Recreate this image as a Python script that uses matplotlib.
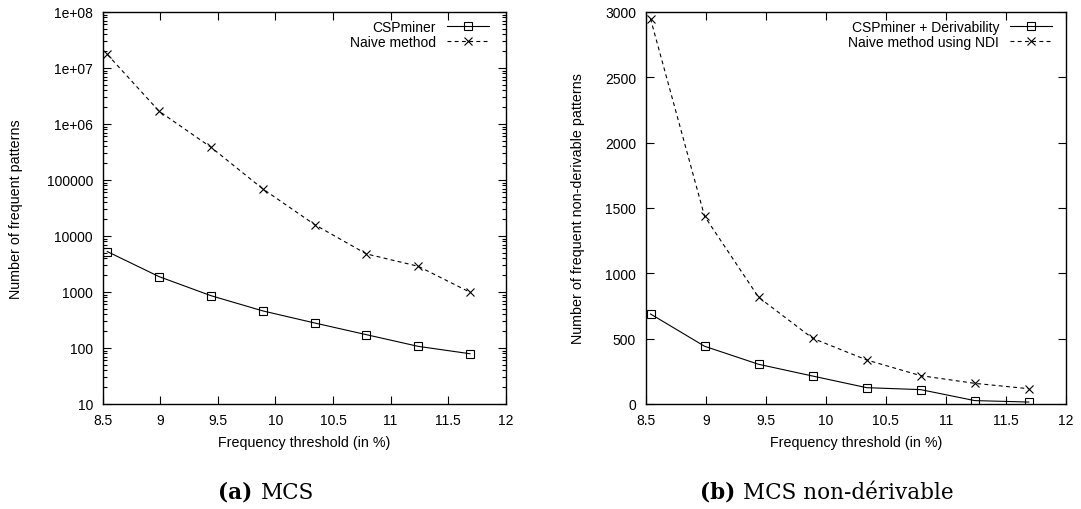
import matplotlib
matplotlib.use("Agg")
import matplotlib.pyplot as plt
from matplotlib.ticker import FixedLocator, LogLocator, NullFormatter

plt.rcParams['font.family'] = ['Liberation Sans', 'DejaVu Sans']

# Data
thresholds = [8.54, 8.99, 9.44, 9.89, 10.34, 10.79, 11.24, 11.69]
cspminer = [5270, 1880, 860, 460, 280, 173, 107, 79]
naive = [1.75e7, 1.69e6, 3.85e5, 6.95e4, 1.6e4, 4790, 2880, 990]
csp_deriv = [689, 442, 304, 214, 125, 110, 26, 15]
naive_ndi = [2949, 1437, 817, 503, 337, 217, 158, 117]

x_ticks = [8.5, 9, 9.5, 10, 10.5, 11, 11.5, 12]
x_tick_labels = ["8.5", "9", "9.5", "10", "10.5", "11", "11.5", "12"]
log_ticks = [10, 100, 1000, 10000, 100000, 1e6, 1e7, 1e8]
log_tick_labels = ["10", "100", "1000", "10000", "100000", "1e+06", "1e+07", "1e+08"]
lin_ticks = [0, 500, 1000, 1500, 2000, 2500, 3000]
lin_tick_labels = ["0", "500", "1000", "1500", "2000", "2500", "3000"]

W, H = 1081, 510
fig = plt.figure(figsize=(W / 100, H / 100), dpi=100)

def px_axes(x0, x1, y0, y1):
    return fig.add_axes([x0 / W, 1 - y1 / H, (x1 - x0) / W, (y1 - y0) / H])

axL = px_axes(102.7, 505.7, 13, 405)
axR = px_axes(645.7, 1066, 13, 405)

FS = 10
LFS = 10.3
lw = 0.8
dash = (0, (3.5, 3))

def style(ax, ylabel_x):
    ax.set_xlim(8.5, 12)
    ax.xaxis.set_major_locator(FixedLocator(x_ticks))
    ax.set_xticklabels(x_tick_labels)
    ax.tick_params(which='both', direction='in', top=True, right=True,
                   labelsize=FS, width=0.8, color='black')
    ax.tick_params(which='major', length=6)
    ax.tick_params(axis='x', which='major', pad=6.5)
    ax.tick_params(axis='y', which='major', pad=7)
    ax.tick_params(which='minor', length=3)
    for s in ax.spines.values():
        s.set_linewidth(1.0)
    ax.set_xlabel("Frequency threshold (in %)", fontsize=LFS)
    ax.xaxis.set_label_coords(0.5, (405 - 443) / 392)
    ax.xaxis.label.set_va('center')
    ax.yaxis.set_label_coords(ylabel_x, 0.5)
    ax.yaxis.label.set_va('center')

def legend(ax, xa):
    ax.legend(loc='upper right', frameon=False, markerfirst=False, fontsize=FS,
              handlelength=3.0, handletextpad=0.8, labelspacing=0.08,
              borderaxespad=0.0, borderpad=0.0, bbox_to_anchor=(xa, 0.98))

# Left: log scale
axL.plot(thresholds, cspminer, color='black', lw=lw, marker='s', ms=5.5,
         mfc='none', mec='black', mew=0.8, label='CSPminer')
axL.plot(thresholds, naive, color='black', lw=lw, ls=dash, marker='x', ms=5.5,
         mec='black', mew=0.8, label='Naive method')
axL.set_yscale('log')
axL.set_ylim(10, 1e8)
axL.yaxis.set_major_locator(FixedLocator(log_ticks))
axL.set_yticklabels(log_tick_labels)
axL.yaxis.set_minor_locator(LogLocator(base=10, subs=[2, 3, 4, 5, 6, 7, 8, 9]))
axL.yaxis.set_minor_formatter(NullFormatter())
axL.set_ylabel("Number of frequent patterns", fontsize=LFS)
style(axL, (16 - 102.7) / 403)
legend(axL, (489 - 102.7) / 403)

# Right: linear
axR.plot(thresholds, csp_deriv, color='black', lw=lw, marker='s', ms=5.5,
         mfc='none', mec='black', mew=0.8, label='CSPminer + Derivability')
axR.plot(thresholds, naive_ndi, color='black', lw=lw, ls=dash, marker='x', ms=5.5,
         mec='black', mew=0.8, label='Naive method using NDI')
axR.set_ylim(0, 3000)
axR.yaxis.set_major_locator(FixedLocator(lin_ticks))
axR.set_yticklabels(lin_tick_labels)
axR.set_ylabel("Number of frequent non-derivable patterns", fontsize=LFS)
style(axR, (578 - 645.7) / 420.3)
legend(axR, (1052 - 645.7) / 420.3)

# Captions
cap_fs = 15.5
renderer = fig.canvas.get_renderer()

def caption(cx, bold_part, rest):
    t1 = fig.text(0, 1 - 493 / H, bold_part, fontsize=cap_fs, fontweight='bold',
                  family='DejaVu Serif', ha='left', va='center')
    t2 = fig.text(0, 1 - 493 / H, rest, fontsize=cap_fs,
                  family='DejaVu Serif', ha='left', va='center')
    w1 = t1.get_window_extent(renderer).width
    w2 = t2.get_window_extent(renderer).width
    gap = 8
    total = w1 + gap + w2
    x0 = cx - total / 2
    t1.set_x(x0 / W)
    t2.set_x((x0 + w1 + gap) / W)

caption(266, "(a)", "MCS")
caption(827, "(b)", "MCS non-dérivable")

fig.savefig("out.png", dpi=100)
